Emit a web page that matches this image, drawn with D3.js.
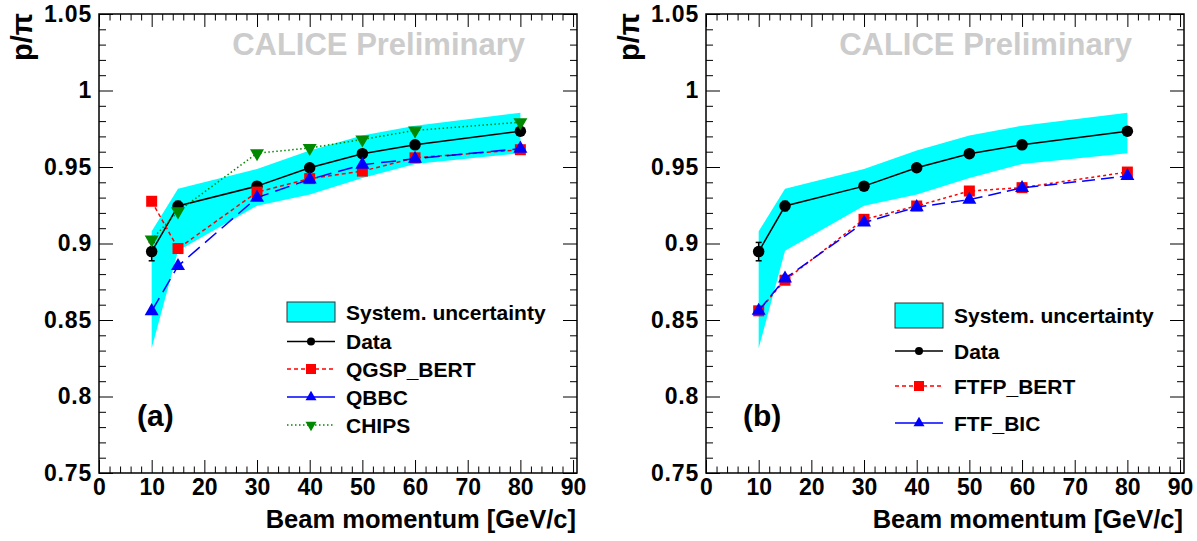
<!DOCTYPE html>
<html>
<head>
<meta charset="utf-8">
<script src="https://cdn.jsdelivr.net/npm/d3@7"></script>
<style>
  body { margin: 0; background: #fff; }
  svg { display: block; font-family: "Liberation Sans", Arial, sans-serif; font-weight: bold; }
  .axis path.domain { display: none; }
  .axis line { stroke: #000; stroke-width: 1; }
  .axis text { font-size: 23px; font-weight: bold; fill: #000; }
</style>
</head>
<body>
<div id="chart"></div>
<script>
// Beam momenta (GeV/c)
const momenta = [10, 15, 30, 40, 50, 60, 80];

// Data p/pi ratio with stat. errors and systematic band
const dataRatio = [0.8947, 0.9245, 0.9375, 0.9495, 0.9587, 0.9645, 0.9734];
const dataErr = [0.006, 0.003, 0.002, 0.002, 0.002, 0.002, 0.002];
const systLow = [0.8315, 0.8952, 0.9247, 0.932, 0.9428, 0.952, 0.959];
const systHigh = [0.908, 0.9358, 0.9487, 0.9608, 0.9706, 0.977, 0.9854];

// Panel (a) models
const qgspBert = [0.9276, 0.8967, 0.9336, 0.9424, 0.9473, 0.956, 0.9613];
const qbbc = [0.8558, 0.8853, 0.930, 0.9419, 0.9515, 0.9554, 0.962];
const chips = [0.9026, 0.921, 0.959, 0.9624, 0.968, 0.9739, 0.9793];

// Panel (b) models
const ftfpBert = [0.856, 0.876, 0.9158, 0.9245, 0.9343, 0.9365, 0.9467];
const ftfBic = [0.856, 0.8771, 0.9137, 0.9238, 0.9287, 0.9363, 0.9441];

// Axis ticks
const xTicks = [0, 10, 20, 30, 40, 50, 60, 70, 80, 90];
const yTicks = [0.75, 0.8, 0.85, 0.9, 0.95, 1, 1.05];
const yTickLabels = ['0.75', '0.8', '0.85', '0.9', '0.95', '1', '1.05'];

const W = 1197, H = 541;
const plotW = 478, plotTop = 14, plotBottom = 473;

const svg = d3.select('#chart').append('svg')
    .attr('width', W)
    .attr('height', H);

const x = d3.scaleLinear().domain([0, 90.75]).range([0, plotW]);
const y = d3.scaleLinear().domain([0.75, 1.05]).range([plotBottom, plotTop]);

const xMinor = d3.range(0, 91, 2).filter(v => v % 10 !== 0);
const yMinor = d3.range(75, 106, 1).map(v => v / 100).filter(v => Math.round(v * 100) % 5 !== 0);

function markerPath(type, size) {
    if (type === 'circle') return d3.symbol(d3.symbolCircle, Math.PI * size * size / 4)();
    if (type === 'square') return d3.symbol(d3.symbolSquare, size * size)();
    // triangles
    return d3.symbol(d3.symbolTriangle, Math.sqrt(3) / 4 * size * size)();
}

function drawPanel(left, cfg) {
    const g = svg.append('g').attr('transform', `translate(${left},0)`);

    // systematic band
    const band = d3.area()
        .x((d, i) => x(momenta[i]))
        .y0((d, i) => y(systLow[i]))
        .y1((d, i) => y(systHigh[i]));
    g.append('path')
        .datum(momenta)
        .attr('d', band)
        .attr('fill', '#00ffff');

    // axes
    g.append('g').attr('class', 'axis')
        .attr('transform', `translate(0,${plotBottom})`)
        .call(d3.axisBottom(x).tickValues(xTicks).tickSize(-13).tickPadding(6));
    g.append('g').attr('class', 'axis')
        .attr('transform', `translate(0,${plotBottom})`)
        .call(d3.axisBottom(x).tickValues(xMinor).tickSize(-6.5).tickFormat(''));
    g.append('g').attr('class', 'axis')
        .attr('transform', `translate(0,${plotTop})`)
        .call(d3.axisTop(x).tickValues(xTicks).tickSize(-13).tickFormat(''));
    g.append('g').attr('class', 'axis')
        .attr('transform', `translate(0,${plotTop})`)
        .call(d3.axisTop(x).tickValues(xMinor).tickSize(-6.5).tickFormat(''));

    g.append('g').attr('class', 'axis yaxis')
        .call(d3.axisLeft(y).tickValues(yTicks).tickSize(-14).tickPadding(7)
            .tickFormat((d, i) => yTickLabels[i]));
    g.append('g').attr('class', 'axis')
        .call(d3.axisLeft(y).tickValues(yMinor).tickSize(-7).tickFormat(''));
    g.append('g').attr('class', 'axis')
        .attr('transform', `translate(${plotW},0)`)
        .call(d3.axisRight(y).tickValues(yTicks).tickSize(-14).tickFormat(''));
    g.append('g').attr('class', 'axis')
        .attr('transform', `translate(${plotW},0)`)
        .call(d3.axisRight(y).tickValues(yMinor).tickSize(-7).tickFormat(''));

    g.selectAll('.yaxis text').style('letter-spacing', '0.8px');

    // frame
    g.append('rect')
        .attr('x', 0).attr('y', plotTop)
        .attr('width', plotW).attr('height', plotBottom - plotTop)
        .attr('fill', 'none')
        .attr('stroke', '#000')
        .attr('stroke-width', 1.5);

    // watermark
    g.append('text')
        .attr('x', 426).attr('y', 55)
        .attr('text-anchor', 'end')
        .style('font-size', '31px')
        .style('fill', '#cccccc')
        .text('CALICE Preliminary');

    // y title
    g.append('text')
        .attr('transform', `translate(${-67},${plotTop - 1}) rotate(-90)`)
        .attr('text-anchor', 'end')
        .style('font-size', '29px')
        .text('p/π');

    // x title
    g.append('text')
        .attr('x', plotW - 1).attr('y', 528)
        .attr('text-anchor', 'end')
        .style('font-size', '25.5px')
        .text('Beam momentum [GeV/c]');

    // panel label
    g.append('text')
        .attr('x', cfg.labelX).attr('y', 426)
        .style('font-size', '30px')
        .text(cfg.label);

    const lineGen = vals => d3.line()
        .x((d, i) => x(momenta[i]))
        .y(d => y(d))(vals);

    // data line + error bars
    g.append('path')
        .attr('d', lineGen(dataRatio))
        .attr('fill', 'none').attr('stroke', '#000').attr('stroke-width', 1.5);
    momenta.forEach((m, i) => {
        const cx = x(m);
        g.append('line')
            .attr('x1', cx).attr('x2', cx)
            .attr('y1', y(dataRatio[i] - dataErr[i])).attr('y2', y(dataRatio[i] + dataErr[i]))
            .attr('stroke', '#000').attr('stroke-width', 1.5);
        [-1, 1].forEach(s => {
            g.append('line')
                .attr('x1', cx - 3).attr('x2', cx + 3)
                .attr('y1', y(dataRatio[i] + s * dataErr[i])).attr('y2', y(dataRatio[i] + s * dataErr[i]))
                .attr('stroke', '#000').attr('stroke-width', 1.5);
        });
    });
    g.selectAll('.dataPt').data(dataRatio).enter().append('path')
        .attr('d', markerPath('circle', 11.5))
        .attr('transform', (d, i) => `translate(${x(momenta[i])},${y(d)})`)
        .attr('fill', '#000');

    // model curves
    cfg.models.forEach(mdl => {
        g.append('path')
            .attr('d', lineGen(mdl.values))
            .attr('fill', 'none')
            .attr('stroke', mdl.color)
            .attr('stroke-width', 1.5)
            .attr('stroke-dasharray', mdl.dash);
        g.selectAll(null).data(mdl.values).enter().append('path')
            .attr('d', markerPath(mdl.marker, mdl.marker === 'square' ? 11 : 14))
            .attr('transform', (d, i) => `translate(${x(momenta[i])},${y(d)})` + (mdl.rot ? ' rotate(180)' : ''))
            .attr('fill', mdl.color);
    });

    // legend
    const lg = svg.append('g').attr('transform', `translate(${cfg.legX},0)`);
    lg.append('rect')
        .attr('x', 0).attr('y', cfg.legBox[0])
        .attr('width', 48).attr('height', cfg.legBox[1] - cfg.legBox[0])
        .attr('fill', '#00ffff')
        .attr('stroke', '#333').attr('stroke-width', 1);
    lg.append('text')
        .attr('x', 59).attr('y', (cfg.legBox[0] + cfg.legBox[1]) / 2)
        .attr('dy', '0.36em')
        .style('font-size', '21px')
        .text('System. uncertainty');

    const entries = [{ name: 'Data', color: '#000', dash: null, marker: 'circle' }]
        .concat(cfg.models);
    entries.forEach((e, i) => {
        const ly = cfg.legRows[i];
        lg.append('line')
            .attr('x1', 0).attr('x2', 48)
            .attr('y1', ly).attr('y2', ly)
            .attr('stroke', e.color).attr('stroke-width', 1.5)
            .attr('stroke-dasharray', e.legDash || null);
        const sz = e.marker === 'circle' ? 8 : (e.marker === 'square' ? 10 : 11);
        lg.append('path')
            .attr('d', markerPath(e.marker, sz))
            .attr('transform', `translate(24,${ly})` + (e.rot ? ' rotate(180)' : ''))
            .attr('fill', e.color);
        lg.append('text')
            .attr('x', 59).attr('y', ly)
            .attr('dy', '0.36em')
            .style('font-size', '21px')
            .text(e.name);
    });
}

drawPanel(99, {
    label: '(a)', labelX: 38,
    legX: 287, legBox: [302, 322], legRows: [341.5, 369, 397, 425],
    models: [
        { name: 'QGSP_BERT', values: qgspBert, color: '#ff0000', dash: '4,3', legDash: '4,3', marker: 'square' },
        { name: 'QBBC', values: qbbc, color: '#0000ff', dash: '15,7', legDash: null, marker: 'triangle' },
        { name: 'CHIPS', values: chips, color: '#008800', dash: '1.5,2.5', legDash: '1.5,2.5', marker: 'triangle', rot: true }
    ]
});

drawPanel(706, {
    label: '(b)', labelX: 37,
    legX: 895, legBox: [303, 328], legRows: [351, 386, 423],
    models: [
        { name: 'FTFP_BERT', values: ftfpBert, color: '#ff0000', dash: '3,3', legDash: '4,3', marker: 'square' },
        { name: 'FTF_BIC', values: ftfBic, color: '#0000ff', dash: '13,6', legDash: null, marker: 'triangle' }
    ]
});
</script>
</body>
</html>
